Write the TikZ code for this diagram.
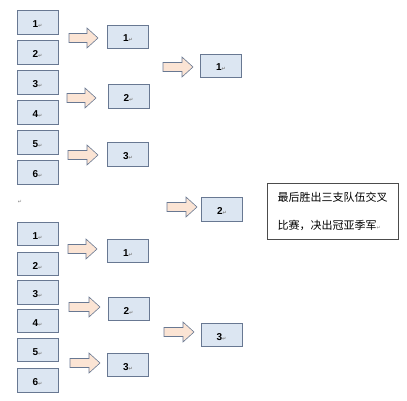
\documentclass[tikz,border=0pt]{standalone}
\usepackage{fontspec}
\setmainfont{Liberation Sans}
\newfontfamily\cjk{Noto Sans CJK SC}
\newfontfamily\symf{DejaVu Sans}
\definecolor{boxfill}{RGB}{220,230,242}
\definecolor{boxline}{RGB}{104,120,146}
\definecolor{arrowfill}{RGB}{251,228,212}
\newcommand{\pmark}{{\symf\fontsize{5}{5}\selectfont\color{gray}↵}}
% block arrow: start x, tip x, centre y
\newcommand{\blockarrow}[3]{%
  \draw[blockarr] (#1,#3-4.5) -- (#2-11,#3-4.5) -- (#2-11,#3-10) -- (#2,#3)
    -- (#2-11,#3+10) -- (#2-11,#3+4.5) -- (#1,#3+4.5) -- cycle;}
\tikzset{
  team/.style={draw=boxline,fill=boxfill,line width=0.8pt,minimum width=41pt,
    minimum height=23.5pt,inner sep=0pt,text height=10pt,text depth=0pt,
    font=\bfseries\fontsize{10}{12}\selectfont},
  blockarr/.style={draw=boxline,fill=arrowfill,line width=0.6pt,line join=miter}
}
\begin{document}
\begin{tikzpicture}[x=1pt,y=-1pt]
  \useasboundingbox (0,0) rectangle (407,401);
  % first round, upper half
  \foreach \n/\y in {1/22.5,2/52.5,3/82.5,4/112.5,5/142.5,6/172.5}
    \node[team] (a\n) at (37.5,\y) {\n\pmark};
  \blockarrow{69}{98}{38}
  \blockarrow{67}{96}{98}
  \blockarrow{68}{98}{155}
  \node[team] (ra1) at (128,37) {1\pmark};
  \node[team] (ra2) at (128.5,96.5) {2\pmark};
  \node[team] (ra3) at (128,154.5) {3\pmark};

  \node[inner sep=0pt] (gap) at (20,202) {\pmark};

  % first round, lower half
  \foreach \n/\y in {1/234,2/264,3/292.5,4/321,5/350,6/380.5}
    \node[team] (b\n) at (37.5,\y) {\n\pmark};
  \blockarrow{68}{97}{249}
  \blockarrow{69}{100}{307}
  \blockarrow{70}{100}{363}
  \node[team] (rb1) at (128,251) {1\pmark};
  \node[team] (rb2) at (128.5,309) {2\pmark};
  \node[team] (rb3) at (128,365) {3\pmark};

  % second round
  \blockarrow{163}{193}{67}
  \blockarrow{167}{197}{207}
  \blockarrow{164}{194}{332}
  \node[team] (f1) at (221,66) {1\pmark};
  \node[team] (f2) at (222,209.5) {2\pmark};
  \node[team] (f3) at (221.5,335) {3\pmark};

  \node[draw=black!70,line width=0.8pt,minimum width=131pt,minimum height=56pt,
    inner sep=0pt,align=left,font=\cjk\fontsize{11}{28}\selectfont] (note)
    at (332.5,211) {最后胜出三支队伍交叉\\比赛，决出冠亚季军\pmark};
\end{tikzpicture}
\end{document}
